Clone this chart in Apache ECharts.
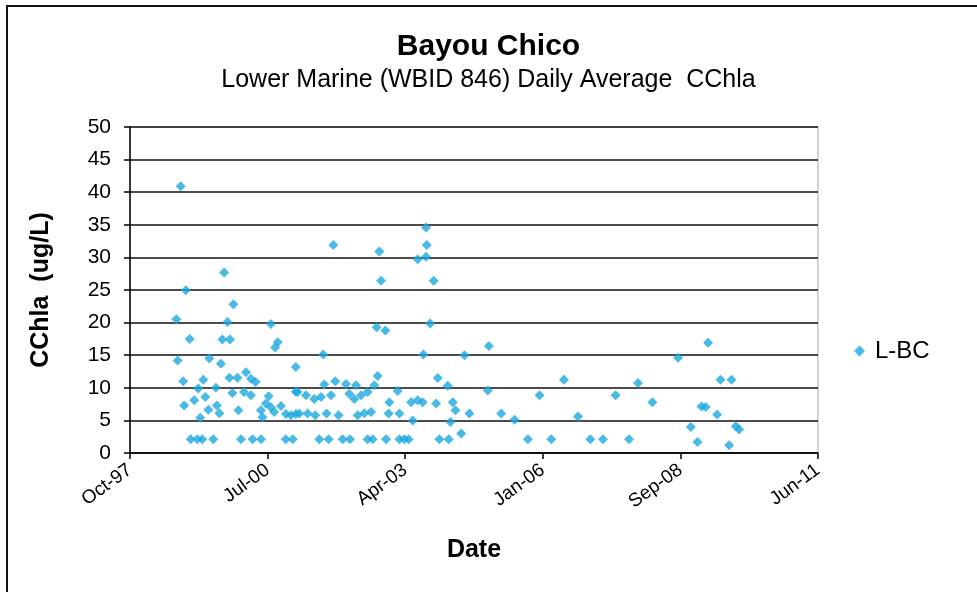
<!DOCTYPE html>
<html>
<head>
<meta charset="utf-8">
<script src="https://cdn.jsdelivr.net/npm/echarts@6/dist/echarts.min.js"></script>
<style>
html,body{margin:0;padding:0;background:#fff;}
#chart{width:977px;height:592px;}
</style>
</head>
<body>
<div id="chart"></div>
<script>
// Sample dates as fractional years
var sampleYears = [
 1998.80,1999.665,1998.902,1999.85,1998.714,1999.73,2000.595,2000.73,2000.68,1998.98,
 1999.63,1999.78,1998.74,1999.37,1999.60,2001.09,1998.85,1999.25,1999.77,1999.93,
 2000.10,2000.20,2000.29,1999.50,1999.15,1999.83,2000.06,2000.197,1999.29,1999.07,
 1998.87,1999.52,1999.35,1999.57,1999.95,1999.19,2000.55,2001.09,2000.496,2000.595,
 2000.396,2000.428,2000.661,2000.795,2000.894,2000.994,2001.094,
 1999.00,1999.13,1999.23,1999.45,2000.00,2000.23,2000.40,2000.89,2001.03,
 2003.683,2001.837,2002.753,2003.695,2003.516,2003.683,2002.787,2003.835,2002.70,2002.873,
 2003.763,2001.637,2003.63,2004.447,2002.719,2003.915,2004.114,2001.657,2001.876,2002.09,
 2002.289,2002.653,2003.118,
 2001.125,2001.293,2001.458,2001.592,2001.791,2002.155,2002.255,2002.389,2002.52,2002.952,
 2003.385,2003.516,2003.616,2003.883,2004.214,
 2001.159,2001.325,2001.478,2001.703,2001.942,2002.321,2002.454,2002.588,2002.938,2003.152,
 2003.417,2004.168,2004.267,2004.381,2004.546,
 2001.558,2001.743,2002.022,2002.169,2002.52,2002.62,2002.887,2003.152,2003.251,2003.337,
 2003.949,2004.134,
 2004.931,2006.425,2004.911,2005.941,2007.455,2007.90,2005.178,2005.443,2006.704,
 2005.708,2006.174,2006.951,2007.202,2007.72,
 2009.294,2008.697,2009.541,2009.76,2008.186,2009.163,2009.248,2009.474,2008.95,2009.846,
 2009.912,2009.083,2009.713
];
// CChla daily averages (ug/L)
var cchlaValues = [
 40.9,27.7,24.95,22.8,20.5,20.1,19.8,17.0,16.2,17.5,
 17.4,17.4,14.2,14.5,13.7,13.2,11.0,11.25,11.55,11.55,
 12.4,11.4,10.9,10.0,9.9,9.2,9.35,8.85,8.6,8.1,
 7.3,7.3,6.65,6.1,6.55,5.4,8.7,9.4,7.6,7.0,
 6.55,5.5,6.3,7.2,6.0,5.8,6.0,
 2.1,2.1,2.1,2.1,2.1,2.1,2.1,2.1,2.1,
 34.6,31.9,30.9,31.9,29.7,30.1,26.4,26.4,19.3,18.8,
 19.85,15.1,15.1,15.0,11.8,11.5,10.3,10.5,11.0,10.6,
 10.4,10.4,9.5,
 9.35,8.85,8.3,8.6,8.85,9.1,8.3,8.85,9.35,7.8,
 7.8,8.1,7.8,7.6,7.8,
 6.05,6.05,5.8,6.05,5.8,5.8,6.1,6.3,6.05,6.05,
 5.0,4.75,6.55,3.0,6.05,
 2.1,2.1,2.1,2.1,2.1,2.1,2.1,2.1,2.1,2.1,
 2.1,2.1,
 16.4,11.25,9.6,8.85,8.85,10.75,6.05,5.1,5.6,
 2.1,2.1,2.1,2.1,2.1,
 16.9,14.6,11.25,11.25,7.8,7.15,7.05,5.9,4.0,4.1,
 3.6,1.7,1.2
];
var seriesName = 'L-BC';
var yTicks = [0,5,10,15,20,25,30,35,40,45,50];
var monthNames = ['Jan','Feb','Mar','Apr','May','Jun','Jul','Aug','Sep','Oct','Nov','Dec'];

// axis origin: 17 Oct 1997 (day 0), ticks every 1000 days
var baseYear = 1997 + 289/365;
var baseMs = Date.UTC(1997, 9, 17);
var dayMs = 86400000;

var pts = sampleYears.map(function(y, i){
  return [(y - baseYear) * 365.25, cchlaValues[i]];
});

function fmtDay(d){
  var dt = new Date(baseMs + Math.round(d) * dayMs);
  var yy = String(dt.getUTCFullYear() % 100);
  if (yy.length < 2) yy = '0' + yy;
  return monthNames[dt.getUTCMonth()] + '-' + yy;
}

var chart = echarts.init(document.getElementById('chart'));
var font = 'Liberation Sans, Arial, sans-serif';
chart.setOption({
  backgroundColor: '#fff',
  animation: false,
  textStyle: {fontFamily: font},
  graphic: [
    {type:'rect', shape:{x:7, y:6, width:980, height:600},
     style:{fill:'none', stroke:'#111', lineWidth:2}},
    {type:'text', left:'center', top:32, style:{text:'Bayou Chico', font:'bold 30px Liberation Sans', fill:'#000'}},
    {type:'text', left:'center', top:68, style:{text:'Lower Marine (WBID 846) Daily Average  CChla', font:'25px Liberation Sans', fill:'#000'}}
  ],
  grid: {left:130, right:159, top:127, bottom:139, show:true, borderColor:'#aaa', borderWidth:1, backgroundColor:'#fff'},
  legend: {
    data:[seriesName], left:849, top:334, icon:'diamond', itemWidth:11, itemHeight:11, itemGap:9,
    textStyle:{fontSize:24, color:'#000', fontFamily:font, padding:[0,0,0,5]}
  },
  xAxis: {
    type:'value', min:0, max:5000, interval:1000,
    name:'Date', nameLocation:'middle', nameGap:85,
    nameTextStyle:{fontSize:25, fontWeight:'bold', color:'#000', fontFamily:font},
    axisLine:{onZero:false, lineStyle:{color:'#000', width:1.5}},
    axisTick:{show:true, inside:false, length:6, lineStyle:{color:'#000', width:1.5}},
    axisLabel:{formatter:fmtDay, rotate:36, fontSize:19, color:'#000', margin:15, fontFamily:font},
    splitLine:{show:false}
  },
  yAxis: {
    type:'value', min:yTicks[0], max:yTicks[yTicks.length-1], interval:5,
    name:'CChla  (ug/L)', nameLocation:'middle', nameGap:76,
    nameTextStyle:{fontSize:25, fontWeight:'bold', color:'#000', fontFamily:font},
    axisLine:{show:true, lineStyle:{color:'#000', width:1.5}},
    axisTick:{show:true, length:6, lineStyle:{color:'#000', width:1.5}},
    axisLabel:{fontSize:21, color:'#000', margin:19, fontFamily:font},
    splitLine:{show:true, lineStyle:{color:'#111', width:1.5}}
  },
  series: [{
    name: seriesName, type:'scatter', symbol:'diamond', symbolSize:10,
    itemStyle:{color:'#1BA8E0'}, data: pts
  }]
});
</script>
</body>
</html>
